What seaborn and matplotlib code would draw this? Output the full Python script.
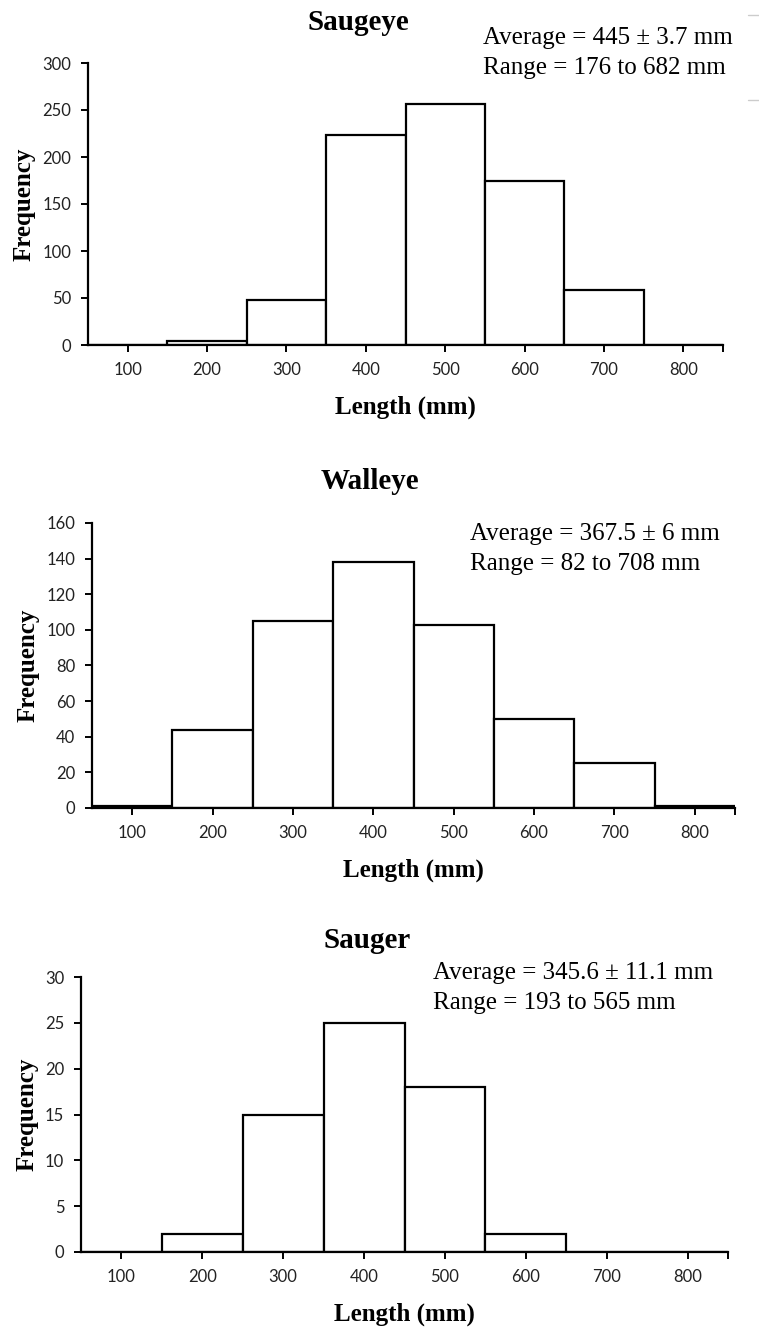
import numpy as np
import pandas as pd
import matplotlib
matplotlib.use("Agg")
import matplotlib.pyplot as plt
from matplotlib.lines import Line2D
import seaborn as sns

# ---- data ----
bin_edges = [50, 150, 250, 350, 450, 550, 650, 750, 850]
bin_centers = [100, 200, 300, 400, 500, 600, 700, 800]
saugeye_counts = [0, 4, 48, 223, 256, 175, 58, 0]
walleye_counts = [1, 44, 105, 138, 103, 50, 25, 1]
sauger_counts = [0, 2, 15, 25, 18, 2, 0, 0]
xticks = [100, 200, 300, 400, 500, 600, 700, 800]
saugeye_yticks = [0, 50, 100, 150, 200, 250, 300]
walleye_yticks = [0, 20, 40, 60, 80, 100, 120, 140, 160]
sauger_yticks = [0, 5, 10, 15, 20, 25, 30]
titles = ["Saugeye", "Walleye", "Sauger"]
notes = [("Average = 445 \u00b1 3.7 mm", "Range = 176 to 682 mm"),
         ("Average = 367.5 \u00b1 6 mm", "Range = 82 to 708 mm"),
         ("Average = 345.6 \u00b1 11.1 mm", "Range = 193 to 565 mm")]

sns.set_theme(style="white")
plt.rcParams["font.family"] = ["Liberation Serif", "DejaVu Serif"]
plt.rcParams["text.color"] = "black"
plt.rcParams["axes.labelcolor"] = "black"

W, H = 759, 1333
fig = plt.figure(figsize=(W / 100, H / 100), dpi=100)

def box(l, r, t, b):
    return [l / W, 1 - b / H, (r - l) / W, (b - t) / H]

layouts = [box(88, 723, 63, 345), box(92, 735, 523, 808), box(81, 728, 977, 1252)]
counts_all = [saugeye_counts, walleye_counts, sauger_counts]
yticks_all = [saugeye_yticks, walleye_yticks, sauger_yticks]
title_pos = [(358, 22), (370, 481), (367, 940)]
note_pos = [(483, 38), (470, 534), (433, 973)]

for i in range(3):
    ax = fig.add_axes(layouts[i])
    df = pd.DataFrame({"length": bin_centers, "count": counts_all[i]})
    sns.histplot(data=df, x="length", weights="count", bins=bin_edges,
                 color="white", edgecolor="black", linewidth=1.6,
                 alpha=1, ax=ax)
    ax.set_xlim(50, 850)
    yt = yticks_all[i]
    ax.set_ylim(0, yt[-1])
    ax.set_xticks(xticks)
    ax.set_xticks([850], minor=True)
    ax.set_yticks(yt)
    ax.set_yticklabels([str(v) for v in yt])
    for s in ["top", "right"]:
        ax.spines[s].set_visible(False)
    for s in ["left", "bottom"]:
        ax.spines[s].set_color("black")
        ax.spines[s].set_linewidth(1.6)
    ax.tick_params(axis="both", which="both", direction="out", length=5,
                   width=1.4, color="black", bottom=True, left=True)
    ax.tick_params(axis="x", pad=7)
    ax.tick_params(axis="y", pad=7)
    for lab in ax.get_xticklabels() + ax.get_yticklabels():
        lab.set_fontfamily(["Lato", "DejaVu Sans"])
        lab.set_fontsize(12)
        lab.set_color("#222222")
    ax.set_xlabel("Length (mm)", fontsize=18, fontweight="bold", labelpad=13)
    ax.set_ylabel("Frequency", fontsize=18, fontweight="bold", labelpad=5)
    ax.grid(False)
    tx, ty = title_pos[i]
    fig.text(tx / W, 1 - ty / H, titles[i], ha="center", va="center",
             fontsize=21, fontweight="bold")
    nx, ny = note_pos[i]
    fig.text(nx / W, 1 - ny / H, notes[i][0], ha="left", va="center", fontsize=18)
    fig.text(nx / W, 1 - (ny + 30) / H, notes[i][1], ha="left", va="center", fontsize=18)

# faint border remnants at the top right
for yy in (15, 100):
    fig.add_artist(Line2D([748 / W, 1.0], [1 - yy / H, 1 - yy / H],
                          color="#cccccc", linewidth=1, transform=fig.transFigure))

fig.savefig("out.png", dpi=100)
